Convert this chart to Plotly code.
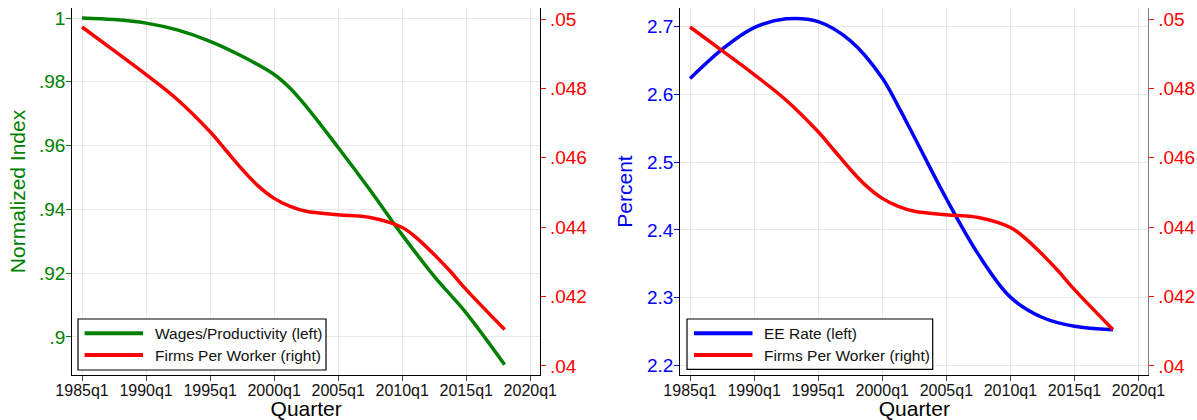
import plotly.graph_objects as go

# ---- data ----
years_wp = [1985, 1987.5, 1990, 1992.5, 1995, 1997.5, 2000, 2001.25, 2002.5, 2005, 2007.5,
            2010, 2012.5, 2015, 2018]
wages_productivity = [1.0000, 0.9995, 0.9984, 0.9962, 0.9927, 0.9880, 0.9823, 0.9780, 0.9723,
                      0.9594, 0.9460, 0.9320, 0.9190, 0.9075, 0.8913]

years_fpw = [1985, 1987.5, 1990, 1992.5, 1995, 1996.25, 1997.5, 1998.75, 2000, 2001.25, 2002.5,
             2005, 2007.5, 2010, 2011.25, 2012.5, 2013.75, 2015, 2018]
firms_per_worker = [0.04977, 0.04909, 0.04840, 0.04766, 0.04675, 0.04621, 0.04567, 0.04519,
                    0.04483, 0.04460, 0.04446, 0.04436, 0.04428, 0.04399, 0.04365, 0.04321,
                    0.04273, 0.04220, 0.04105]

years_ee = [1985, 1987.5, 1990, 1992.5, 1995, 1997.5, 2000, 2001.25, 2002.5, 2005, 2007.5,
            2010, 2012.5, 2015, 2018]
ee_rate = [2.623, 2.666, 2.698, 2.711, 2.707, 2.679, 2.624, 2.582, 2.537,
           2.446, 2.364, 2.301, 2.271, 2.258, 2.253]

x_tickvals = [1985, 1990, 1995, 2000, 2005, 2010, 2015, 2020]
x_ticktext = ["1985q1", "1990q1", "1995q1", "2000q1", "2005q1", "2010q1", "2015q1", "2020q1"]
idx_tickvals = [0.9, 0.92, 0.94, 0.96, 0.98, 1.0]
idx_ticktext = [".9", ".92", ".94", ".96", ".98", "1"]
fpw_tickvals = [0.04, 0.042, 0.044, 0.046, 0.048, 0.05]
fpw_ticktext = [".04", ".042", ".044", ".046", ".048", ".05"]
ee_tickvals = [2.2, 2.3, 2.4, 2.5, 2.6, 2.7]
ee_ticktext = ["2.2", "2.3", "2.4", "2.5", "2.6", "2.7"]

# ---- styling ----
W, H = 1197, 420
MT, MB = 8, 45
PLOT_BOTTOM = H - MB
PLOT_H = H - MT - MB
FONT = "Liberation Sans, Arial, Helvetica, sans-serif"
GREEN, RED, BLUE = "#008000", "#ff0000", "#0000ff"
GRID = "#e8e8e8"
LW = 3.5

def px(xp):
    return xp / W

def py(yp):
    return (PLOT_BOTTOM - yp) / PLOT_H

fig = go.Figure()
fig.add_trace(go.Scatter(x=years_wp, y=wages_productivity, name="Wages/Productivity (left)",
                         mode="lines", line=dict(color=GREEN, width=LW, shape="spline"),
                         xaxis="x", yaxis="y"))
fig.add_trace(go.Scatter(x=years_fpw, y=firms_per_worker, name="Firms Per Worker (right)",
                         mode="lines", line=dict(color=RED, width=LW, shape="spline"),
                         xaxis="x", yaxis="y2"))
fig.add_trace(go.Scatter(x=years_ee, y=ee_rate, name="EE Rate (left)",
                         mode="lines", line=dict(color=BLUE, width=LW, shape="spline"),
                         xaxis="x2", yaxis="y3"))
fig.add_trace(go.Scatter(x=years_fpw, y=firms_per_worker, name="Firms Per Worker (right)",
                         mode="lines", line=dict(color=RED, width=LW, shape="spline"),
                         xaxis="x2", yaxis="y4"))

xcommon = dict(range=[1984.24, 2020.76], tickmode="array", tickvals=x_tickvals, ticktext=x_ticktext,
               showgrid=True, gridcolor=GRID, gridwidth=1, zeroline=False, automargin=False,
               showline=True, linecolor="#000", linewidth=1.2,
               ticks="outside", ticklen=5, tickcolor="#444", ticklabelstandoff=-4,
               tickfont=dict(size=16, color="#111", family=FONT),
               title=dict(text="Quarter", font=dict(size=21, color="#000", family=FONT), standoff=7))

def yax(rng, tv, tt, color, title=None, line="#000", standoff=4, **kw):
    d = dict(range=rng, tickmode="array", tickvals=tv, ticktext=tt, zeroline=False, automargin=False,
             showline=True, linecolor=line, linewidth=1.2,
             ticks="outside", ticklen=5, tickcolor=color,
             tickfont=dict(size=19, color=color, family=FONT))
    if title:
        d["title"] = dict(text=title, font=dict(size=21, color=color, family=FONT), standoff=standoff)
    d.update(kw)
    return d

# ---- legends (boxed, lower-left of each panel) ----
legends = [
    dict(box=(78, 326, 319, 370), line=(84.6, 143), text_x=153, rows=(333.3, 355),
         items=[("Wages/Productivity (left)", GREEN), ("Firms Per Worker (right)", RED)]),
    dict(box=(687, 932.7, 319, 369.3), line=(694, 752.5), text_x=762, rows=(333.3, 355),
         items=[("EE Rate (left)", BLUE), ("Firms Per Worker (right)", RED)]),
]
shapes, annotations = [], []
for lg in legends:
    x0, x1, y0, y1 = lg["box"]
    shapes.append(dict(type="rect", xref="paper", yref="paper", layer="above",
                       x0=px(x0), x1=px(x1), y0=py(y1), y1=py(y0),
                       fillcolor="white", line=dict(color="#000", width=1.2)))
    for (label, color), ry in zip(lg["items"], lg["rows"]):
        shapes.append(dict(type="line", xref="paper", yref="paper", layer="above",
                           x0=px(lg["line"][0]), x1=px(lg["line"][1]), y0=py(ry), y1=py(ry),
                           line=dict(color=color, width=4)))
        annotations.append(dict(text=label, xref="paper", yref="paper", x=px(lg["text_x"]), y=py(ry),
                                xanchor="left", yanchor="middle", showarrow=False,
                                font=dict(size=15.5, color="#111", family=FONT)))

fig.update_layout(
    template="none",
    width=W, height=H,
    margin=dict(l=0, r=0, t=MT, b=MB),
    paper_bgcolor="white", plot_bgcolor="white",
    font=dict(family=FONT),
    showlegend=False,
    xaxis=dict(domain=[72.3 / W, 540 / W], anchor="y", **xcommon),
    xaxis2=dict(domain=[680.3 / W, 1148.3 / W], anchor="y3", **xcommon),
    yaxis=yax([0.88807, 1.00314], idx_tickvals, idx_ticktext, GREEN, "Normalized Index", standoff=7,
              anchor="x", showgrid=True, gridcolor=GRID, ticklabelstandoff=-3),
    yaxis2=yax([0.03974, 0.050317], fpw_tickvals, fpw_ticktext, RED, None,
               anchor="x", overlaying="y", side="right", showgrid=False),
    yaxis3=yax([2.1863, 2.727], ee_tickvals, ee_ticktext, BLUE, "Percent", standoff=8,
               anchor="x2", showgrid=True, gridcolor=GRID, ticklabelstandoff=-3),
    yaxis4=yax([0.03974, 0.050317], fpw_tickvals, fpw_ticktext, RED, None, line="#808080",
               anchor="x2", overlaying="y3", side="right", showgrid=False),
    shapes=shapes,
    annotations=annotations,
)

fig.write_html("out.html", config={"displayModeBar": False},
               post_script="document.body.style.margin='0';document.body.style.overflow='hidden';")
